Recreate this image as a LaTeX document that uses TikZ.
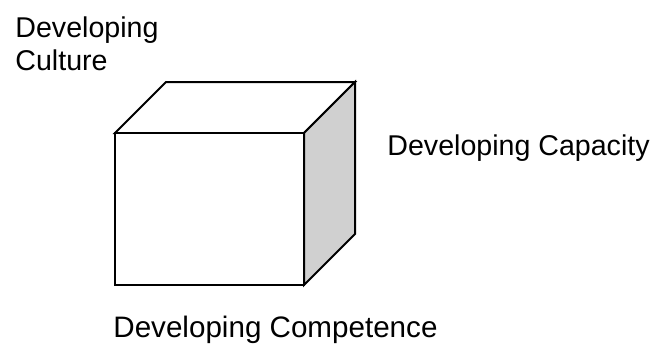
\documentclass[tikz,border=0pt]{standalone}
\usepackage{fontspec}
\setmainfont{Liberation Sans}
\usepackage{tikz}
\definecolor{sideface}{RGB}{208,208,208}

\begin{document}
\begin{tikzpicture}[x=0.5pt,y=-0.5pt,
            label/.style={font=\fontsize{14.3}{16.5}\selectfont,inner sep=0,align=left},
            face/.style={line width=1pt,draw=black,line join=miter}
            ]
            \useasboundingbox (0,0) rectangle (658,345);
            \def\L{115}  % front left
            \def\R{304}  % front right
            \def\T{133}  % front top
            \def\B{285}  % front bottom
            \def\d{51}   % depth

            \draw[face,fill=white] (\L,\T) -- ++(\d,-\d) -- ++(\R-\L,0) -- (\R,\T) -- cycle;
            \draw[face,fill=sideface] (\R,\T) -- ++(\d,-\d) -- ++(0,\B-\T) -- (\R,\B) -- cycle;
            \draw[face,fill=white] (\L,\T) rectangle (\R,\B);

            \node[label,anchor=base west] (culture) at (15,70) {Developing\\Culture};
            \node[label,anchor=base west] (capacity) at (387,155) {Developing Capacity};
            \node[label,anchor=base west,font=\fontsize{14.8}{17}\selectfont] (competence) at (113,337) {Developing Competence};
        \end{tikzpicture}
\end{document}
